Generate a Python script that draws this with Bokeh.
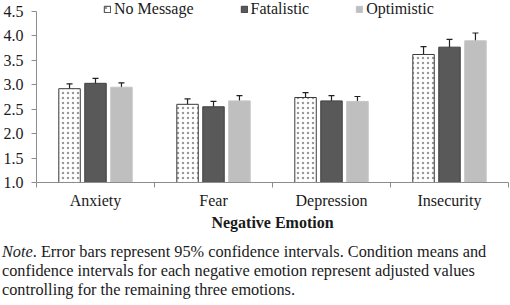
from bokeh.plotting import figure
from bokeh.layouts import column
from bokeh.models import (Range1d, FixedTicker, NumeralTickFormatter, Whisker, Div,
                          ColumnDataSource, Legend, LegendItem, LinearAxis, TeeHead)
from bokeh.transform import dodge
from bokeh.embed import file_html
from bokeh.resources import INLINE

categories = ["Anxiety", "Fear", "Depression", "Insecurity"]
conditions = ["No Message", "Fatalistic", "Optimistic"]
no_message = [2.92, 2.60, 2.74, 3.62]
fatalistic = [3.03, 2.55, 2.67, 3.77]
optimistic = [2.95, 2.67, 2.66, 3.90]
ci_no_message = [0.10, 0.11, 0.10, 0.16]
ci_fatalistic = [0.10, 0.11, 0.11, 0.16]
ci_optimistic = [0.09, 0.11, 0.10, 0.16]
y_ticks = [1.0, 1.5, 2.0, 2.5, 3.0, 3.5, 4.0, 4.5]
x_label = "Negative Emotion"
note_head = "Note"
note_text = (". Error bars represent 95% confidence intervals. Condition means and<br>"
             "confidence intervals for each negative emotion represent adjusted values<br>"
             "controlling for the remaining three emotions.")

FONT = "'Liberation Serif', serif"
n = len(categories)
centers = [i + 0.5 for i in range(n)]

p = figure(width=510, height=242, x_range=Range1d(0, n),
           y_range=Range1d(1.0, 4.725), output_backend="svg", toolbar_location=None,
           x_axis_location=None,
           min_border_left=36, min_border_right=2, min_border_top=0, min_border_bottom=60)
p.outline_line_color = None
p.grid.grid_line_color = None
p.background_fill_color = "white"
p.border_fill_color = "white"

series = [
    (no_message, ci_no_message, -0.22, dict(fill_color="white", line_color="#3a3a3a",
                                              hatch_pattern="dot", hatch_color="#9a9a9a",
                                              hatch_scale=5, hatch_weight=1)),
    (fatalistic, ci_fatalistic, 0.0, dict(fill_color="#595959", line_color="#404040")),
    (optimistic, ci_optimistic, 0.22, dict(fill_color="#bfbfbf", line_color="#c4c4c4")),
]

items = []
for (vals, ci, off, style), name in zip(series, conditions):
    src = ColumnDataSource(dict(pos=centers, val=vals,
                                lo=[v - c for v, c in zip(vals, ci)],
                                hi=[v + c for v, c in zip(vals, ci)]))
    r = p.vbar(x=dodge("pos", off), top="val", bottom=1.0, width=0.182,
               source=src, line_width=1, **style)
    w = Whisker(base=dodge("pos", off), lower="lo", upper="hi", source=src,
                line_color="#222222", line_width=1.2,
                upper_head=TeeHead(size=6, line_color="#222222", line_width=1.2),
                lower_head=TeeHead(size=6, line_color="#222222", line_width=1.2))
    p.add_layout(w)
    items.append(LegendItem(label=name, renderers=[r]))

# y axis
yax = p.yaxis[0]
yax.ticker = FixedTicker(ticks=y_ticks)
yax.bounds = (y_ticks[0], y_ticks[-1])
yax.formatter = NumeralTickFormatter(format="0.0")
yax.axis_line_color = "#8c8c8c"
yax.major_tick_line_color = "#8c8c8c"
yax.major_tick_in = 0
yax.major_tick_out = 5
yax.minor_tick_line_color = None
yax.major_label_text_font = FONT
yax.major_label_text_font_size = "16px"
yax.major_label_text_color = "#1a1a1a"
yax.major_label_standoff = 8

# x axis: boundary ticks, then category labels
tick_ax = LinearAxis(ticker=FixedTicker(ticks=list(range(n + 1))),
                     axis_line_color="#8c8c8c", major_tick_line_color="#8c8c8c",
                     major_tick_in=0, major_tick_out=5, minor_tick_line_color=None,
                     major_label_text_font_size="0px", major_label_text_color=None,
                     major_label_standoff=0)
p.add_layout(tick_ax, "below")
cat_ax = LinearAxis(ticker=FixedTicker(ticks=centers),
                    major_label_overrides={c: name for c, name in zip(centers, categories)},
                    axis_line_color=None, major_tick_line_color=None, minor_tick_line_color=None,
                    major_label_text_font=FONT, major_label_text_font_size="16px",
                    major_label_text_color="#1a1a1a", major_label_standoff=-2,
                    axis_label=x_label, axis_label_text_font=FONT,
                    axis_label_text_font_size="16px", axis_label_text_font_style="bold",
                    axis_label_text_color="#1a1a1a", axis_label_standoff=2)
p.add_layout(cat_ax, "below")

legend = Legend(items=items, orientation="horizontal", location=(67, 164),
                label_text_font=FONT, label_text_font_size="16px", label_text_color="#1a1a1a",
                glyph_width=8, glyph_height=8, label_standoff=3, spacing=46,
                padding=0, margin=0, border_line_color=None, background_fill_alpha=0)
p.add_layout(legend, "center")

note = Div(text=f"<i>{note_head}</i>{note_text}", width=508, height=63,
           margin=(0, 0, 0, 2),
           styles={"font-family": "'Liberation Serif', serif", "font-size": "16.3px",
                   "line-height": "19px", "color": "#1a1a1a", "white-space": "nowrap"})

layout = column(p, note, spacing=0)
open("out.html", "w").write(file_html(layout, INLINE))
